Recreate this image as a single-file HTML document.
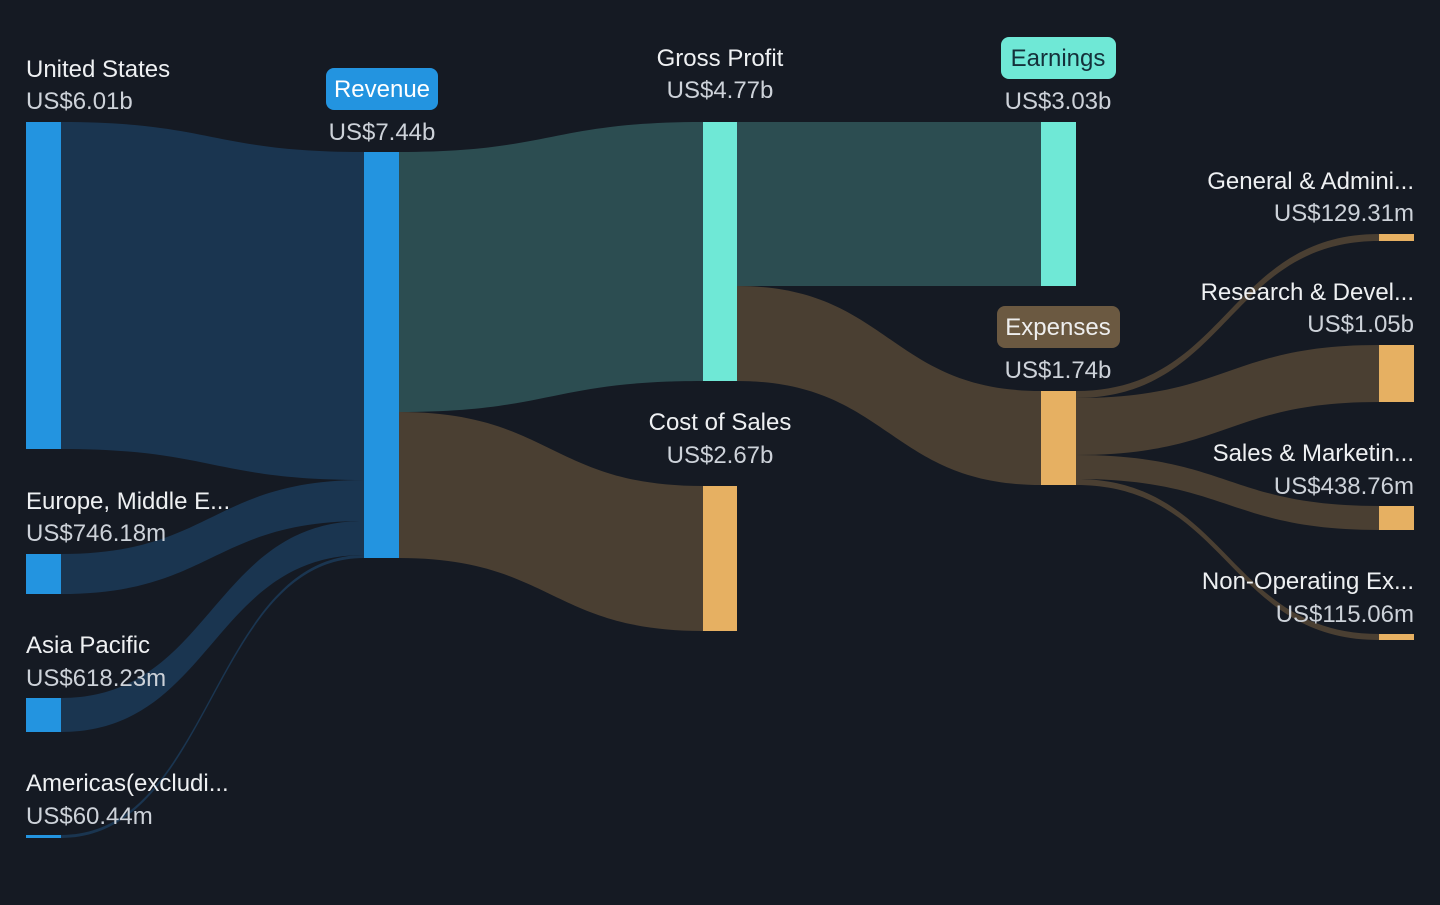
<!DOCTYPE html>
<html><head><meta charset="utf-8"><style>
html,body{margin:0;padding:0;background:#151a23;}
svg{display:block;}
text{font-family:"Liberation Sans",sans-serif;font-size:24px;}
.l{fill:#eef0f2;}
.v{fill:#cdd2d9;}
</style></head><body>
<svg width="1440" height="905" viewBox="0 0 1440 905" xmlns="http://www.w3.org/2000/svg">
<rect width="1440" height="905" fill="#151a23"/>
<g fill="#1a3550">
<path d="M61 122 C212 122,212 152,364 152 L364 480 C212 480,212 449,61 449Z"/>
<path d="M61 554 C212 554,212 480,364 480 L364 521 C212 521,212 594,61 594Z"/>
<path d="M61 698 C212 698,212 521,364 521 L364 555 C212 555,212 732,61 732Z"/>
<path d="M61 835 C212 835,212 555,364 555 L364 558 C212 558,212 838,61 838Z"/>
</g>
<g fill="#2c4d51">
<path d="M399 152 C551 152,551 122,703 122 L703 381 C551 381,551 412,399 412Z"/>
<path d="M737 122 C889 122,889 122,1041 122 L1041 286 C889 286,889 286,737 286Z"/>
</g>
<g fill="#4a3f32">
<path d="M399 412 C551 412,551 486,703 486 L703 631 C551 631,551 558,399 558Z"/>
<path d="M737 286 C889 286,889 391,1041 391 L1041 485 C889 485,889 381,737 381Z"/>
<path d="M1076 391 C1228 391,1228 234,1379 234 L1379 241 C1228 241,1228 398,1076 398Z"/>
<path d="M1076 398 C1228 398,1228 345,1379 345 L1379 402 C1228 402,1228 455,1076 455Z"/>
<path d="M1076 455 C1228 455,1228 506,1379 506 L1379 530 C1228 530,1228 479,1076 479Z"/>
<path d="M1076 479 C1228 479,1228 634,1379 634 L1379 640 C1228 640,1228 485,1076 485Z"/>
</g>
<g fill="#2394e0">
<rect x="26" y="122" width="35" height="327"/>
<rect x="26" y="554" width="35" height="40"/>
<rect x="26" y="698" width="35" height="34"/>
<rect x="26" y="835" width="35" height="3"/>
<rect x="364" y="152" width="35" height="406"/>
</g>
<g fill="#6fe8d6">
<rect x="703" y="122" width="34" height="259"/>
<rect x="1041" y="122" width="35" height="164"/>
</g>
<g fill="#e6b062">
<rect x="703" y="486" width="34" height="145"/>
<rect x="1041" y="391" width="35" height="94"/>
<rect x="1379" y="234" width="35" height="7"/>
<rect x="1379" y="345" width="35" height="57"/>
<rect x="1379" y="506" width="35" height="24"/>
<rect x="1379" y="634" width="35" height="6"/>
</g>
<rect x="326" y="68" width="112" height="42" rx="8" fill="#2394e0"/>
<rect x="1001" y="37" width="115" height="42" rx="8" fill="#6fe8d6"/>
<rect x="997" y="306" width="123" height="42" rx="8" fill="#6b5941"/>
<text x="26" y="77" class="l">United States</text>
<text x="26" y="109" class="v">US$6.01b</text>
<text x="26" y="509" class="l">Europe, Middle E...</text>
<text x="26" y="541" class="v">US$746.18m</text>
<text x="26" y="653" class="l">Asia Pacific</text>
<text x="26" y="686" class="v">US$618.23m</text>
<text x="26" y="791" class="l">Americas(excludi...</text>
<text x="26" y="824" class="v">US$60.44m</text>
<text x="382" y="97" text-anchor="middle" fill="#fff">Revenue</text>
<text x="382" y="140" class="v" text-anchor="middle">US$7.44b</text>
<text x="720" y="66" class="l" text-anchor="middle">Gross Profit</text>
<text x="720" y="98" class="v" text-anchor="middle">US$4.77b</text>
<text x="720" y="430" class="l" text-anchor="middle">Cost of Sales</text>
<text x="720" y="463" class="v" text-anchor="middle">US$2.67b</text>
<text x="1058" y="66" text-anchor="middle" fill="#14303a">Earnings</text>
<text x="1058" y="109" class="v" text-anchor="middle">US$3.03b</text>
<text x="1058" y="335" text-anchor="middle" fill="#eee">Expenses</text>
<text x="1058" y="378" class="v" text-anchor="middle">US$1.74b</text>
<text x="1414" y="189" class="l" text-anchor="end">General &amp; Admini...</text>
<text x="1414" y="221" class="v" text-anchor="end">US$129.31m</text>
<text x="1414" y="300" class="l" text-anchor="end">Research &amp; Devel...</text>
<text x="1414" y="332" class="v" text-anchor="end">US$1.05b</text>
<text x="1414" y="461" class="l" text-anchor="end">Sales &amp; Marketin...</text>
<text x="1414" y="494" class="v" text-anchor="end">US$438.76m</text>
<text x="1414" y="589" class="l" text-anchor="end">Non-Operating Ex...</text>
<text x="1414" y="622" class="v" text-anchor="end">US$115.06m</text>
</svg>
</body></html>
